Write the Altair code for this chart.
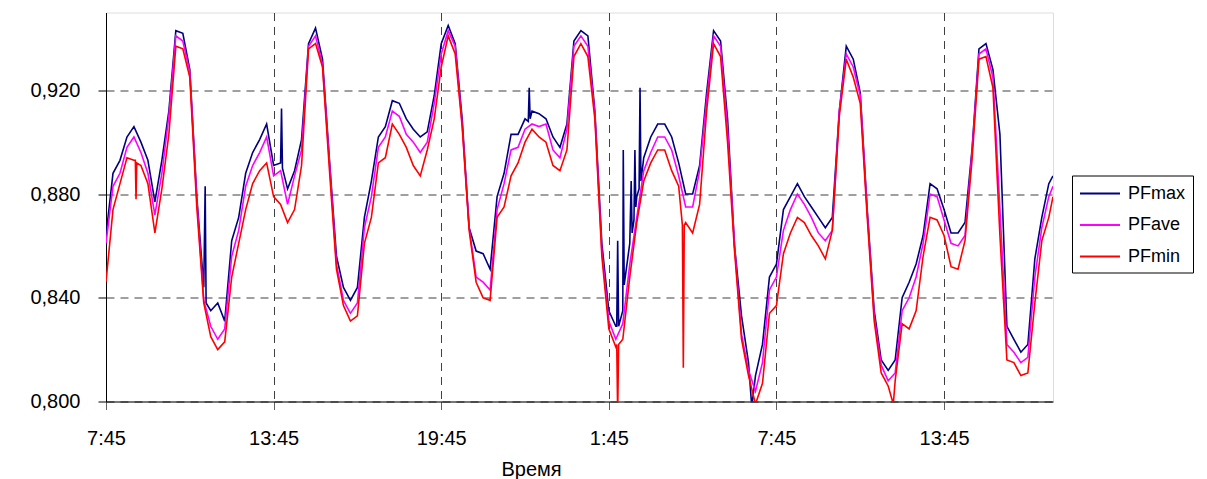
import altair as alt
import pandas as pd

# Time axis: 15-minute samples starting at 7:45 (minutes from start), last sample at the right edge
TIMES = list(range(0, 2026, 15)) + [2034]

PFMAX = [
    0.864, 0.888, 0.893, 0.902, 0.906, 0.900, 0.893, 0.877, 0.893, 0.912,
    0.943, 0.942, 0.928, 0.879, 0.844, 0.835, 0.838, 0.831, 0.862, 0.871,
    0.888, 0.896, 0.901, 0.907, 0.891, 0.892, 0.882, 0.889, 0.901, 0.938,
    0.944, 0.932, 0.893, 0.856, 0.844, 0.839, 0.844, 0.871, 0.885, 0.902,
    0.906, 0.916, 0.915, 0.909, 0.905, 0.902, 0.904, 0.918, 0.938, 0.945,
    0.938, 0.909, 0.867, 0.858, 0.857, 0.851, 0.879, 0.888, 0.903, 0.903,
    0.909, 0.912, 0.911, 0.909, 0.902, 0.898, 0.907, 0.939, 0.943, 0.941,
    0.912, 0.861, 0.835, 0.829, 0.835, 0.861, 0.879, 0.894, 0.902, 0.907,
    0.907, 0.902, 0.892, 0.880, 0.880, 0.891, 0.919, 0.943, 0.939, 0.909,
    0.860, 0.833, 0.815, 0.810, 0.822, 0.848, 0.853, 0.874, 0.879, 0.884,
    0.879, 0.875, 0.871, 0.867, 0.871, 0.912, 0.937, 0.932, 0.919, 0.874,
    0.835, 0.816, 0.812, 0.816, 0.840, 0.846, 0.853, 0.864, 0.884, 0.882,
    0.874, 0.865, 0.865, 0.869, 0.897, 0.936, 0.938, 0.928, 0.903, 0.829,
    0.824, 0.819, 0.822, 0.855, 0.871, 0.884, 0.887,
]
PFAVE = [
    0.861, 0.883, 0.888, 0.898, 0.902, 0.896, 0.888, 0.872, 0.888, 0.910,
    0.941, 0.939, 0.927, 0.878, 0.839, 0.829, 0.824, 0.828, 0.856, 0.866,
    0.883, 0.891, 0.896, 0.902, 0.887, 0.889, 0.876, 0.887, 0.897, 0.937,
    0.941, 0.930, 0.892, 0.853, 0.839, 0.834, 0.838, 0.867, 0.879, 0.898,
    0.902, 0.912, 0.910, 0.903, 0.900, 0.896, 0.900, 0.915, 0.934, 0.943,
    0.937, 0.907, 0.867, 0.848, 0.846, 0.843, 0.874, 0.884, 0.897, 0.898,
    0.905, 0.907, 0.906, 0.907, 0.897, 0.894, 0.905, 0.937, 0.941, 0.937,
    0.911, 0.858, 0.831, 0.824, 0.830, 0.853, 0.871, 0.889, 0.896, 0.902,
    0.902, 0.897, 0.887, 0.875, 0.875, 0.889, 0.916, 0.941, 0.937, 0.905,
    0.860, 0.826, 0.812, 0.804, 0.815, 0.843, 0.848, 0.866, 0.874, 0.880,
    0.876, 0.871, 0.865, 0.862, 0.866, 0.912, 0.934, 0.929, 0.918, 0.873,
    0.833, 0.814, 0.808, 0.811, 0.835, 0.840, 0.848, 0.861, 0.880, 0.879,
    0.870, 0.861, 0.860, 0.864, 0.896, 0.934, 0.936, 0.925, 0.874, 0.822,
    0.819, 0.815, 0.817, 0.848, 0.867, 0.879, 0.883,
]
PFMIN = [
    0.846, 0.874, 0.884, 0.894, 0.893, 0.891, 0.884, 0.865, 0.882, 0.903,
    0.937, 0.936, 0.925, 0.875, 0.838, 0.825, 0.820, 0.823, 0.848, 0.861,
    0.874, 0.884, 0.889, 0.892, 0.879, 0.876, 0.869, 0.874, 0.891, 0.936,
    0.938, 0.929, 0.889, 0.851, 0.837, 0.831, 0.833, 0.861, 0.871, 0.892,
    0.894, 0.907, 0.903, 0.898, 0.891, 0.887, 0.897, 0.909, 0.929, 0.941,
    0.934, 0.906, 0.866, 0.846, 0.840, 0.839, 0.871, 0.875, 0.887, 0.892,
    0.900, 0.905, 0.902, 0.900, 0.891, 0.889, 0.897, 0.933, 0.938, 0.933,
    0.909, 0.856, 0.828, 0.821, 0.824, 0.848, 0.869, 0.885, 0.892, 0.897,
    0.897, 0.889, 0.883, 0.869, 0.865, 0.876, 0.912, 0.938, 0.933, 0.900,
    0.858, 0.824, 0.810, 0.799, 0.807, 0.834, 0.837, 0.857, 0.865, 0.871,
    0.869, 0.864, 0.860, 0.855, 0.866, 0.910, 0.932, 0.925, 0.915, 0.871,
    0.831, 0.811, 0.806, 0.808, 0.830, 0.828, 0.835, 0.856, 0.871, 0.870,
    0.864, 0.852, 0.851, 0.862, 0.893, 0.932, 0.933, 0.921, 0.864, 0.816,
    0.815, 0.810, 0.811, 0.838, 0.862, 0.871, 0.879,
]

# Short spikes: (minutes from start, value)
PFMAX_SPIKES = [
    (213, 0.883), (215, 0.838), (377, 0.913), (379, 0.890),
    (907, 0.908), (909, 0.921), (911, 0.909),
    (1097, 0.829), (1099, 0.862), (1101, 0.829),
    (1111, 0.897), (1113, 0.845), (1128, 0.885), (1130, 0.865),
    (1134, 0.870), (1136, 0.897), (1138, 0.875),
    (1145, 0.882), (1147, 0.921), (1149, 0.885), (1387, 0.798),
]
PFAVE_SPIKES = []
PFMIN_SPIKES = [
    (63, 0.893), (64.5, 0.878), (66, 0.892),
    (1097, 0.822), (1099, 0.795), (1101, 0.822),
    (1238, 0.868), (1240, 0.813), (1242, 0.868), (1691, 0.799),
]

SERIES = ["PFmax", "PFave", "PFmin"]
COLORS = ["#000080", "#FF00FF", "#FF0000"]


def series_frame(name, values, spikes):
    rows = [(t, v) for t, v in zip(TIMES, values)] + list(spikes)
    d = pd.DataFrame(rows, columns=["t", "pf"]).sort_values("t", kind="stable")
    d["series"] = name
    d["ord"] = range(len(d))
    return d


frames = [
    series_frame("PFmax", PFMAX, PFMAX_SPIKES),
    series_frame("PFave", PFAVE, PFAVE_SPIKES),
    series_frame("PFmin", PFMIN, PFMIN_SPIKES),
]
df = pd.concat(frames, ignore_index=True)

FONT = "Liberation Sans"

x_enc = alt.X(
    "t:Q",
    scale=alt.Scale(domain=[0, 2034], nice=False, zero=False),
    axis=alt.Axis(
        values=[0, 360, 720, 1080, 1440, 1800],
        labelExpr="timeFormat(datetime(2000, 0, 1, 7, 45 + datum.value), '%-H:%M')",
        title="Время",
        titleFont=FONT,
        titleFontSize=20,
        titleFontWeight="normal",
        titleColor="black",
        titleX=425,
        titleY=74,
        titleAlign="center",
        titleBaseline="alphabetic",
        labelFont=FONT,
        labelFontSize=20,
        labelColor="black",
        labelPadding=19,
        tickSize=8,
        tickColor="#606060",
        domainColor="black",
        grid=True,
        gridColor="#404040",
        gridDash=[8, 6],
        gridWidth=1,
        labelFlush=False,
        labelOverlap=False,
    ),
)
y_enc = alt.Y(
    "pf:Q",
    scale=alt.Scale(domain=[0.8, 0.95], nice=False, zero=False),
    axis=alt.Axis(
        values=[0.80, 0.84, 0.88, 0.92],
        labelExpr="replace(format(datum.value, '.3f'), '.', ',')",
        title=None,
        labelFont=FONT,
        labelFontSize=20,
        labelColor="black",
        labelPadding=18,
        tickSize=8,
        tickColor="black",
        domainColor="black",
        grid=True,
        gridColor="#404040",
        gridDash=[8, 6],
        gridWidth=1,
        labelFlush=False,
        labelOverlap=False,
    ),
)
color_enc = alt.Color(
    "series:N",
    scale=alt.Scale(domain=SERIES, range=COLORS),
    sort=SERIES,
    legend=alt.Legend(
        title=None,
        orient="none",
        legendX=966,
        legendY=163,
        symbolType="M-1,0L3,0",
        symbolSize=400,
        symbolStrokeWidth=2,
        labelFont=FONT,
        labelFontSize=18,
        labelColor="black",
        labelOffset=27,
        padding=7,
        rowPadding=11.5,
        strokeColor="black",
        fillColor="white",
        cornerRadius=0,
    ),
)

layers = []
for name in SERIES:
    layers.append(
        alt.Chart(df)
        .transform_filter(alt.datum.series == name)
        .mark_line(clip=True, strokeWidth=1.6)
        .encode(x=x_enc, y=y_enc, color=color_enc, order="ord:Q")
    )

chart = (
    alt.layer(*layers)
    .properties(
        width=947,
        height=389,
        autosize=alt.AutoSizeParams(type="none"),
        padding={"left": 98, "top": 4.5, "right": 145, "bottom": 80},
    )
    .configure_view(stroke="#808080", strokeWidth=1)
    .configure(background="white")
)

chart.save("out.html", embed_options={"renderer": "svg", "actions": False})
